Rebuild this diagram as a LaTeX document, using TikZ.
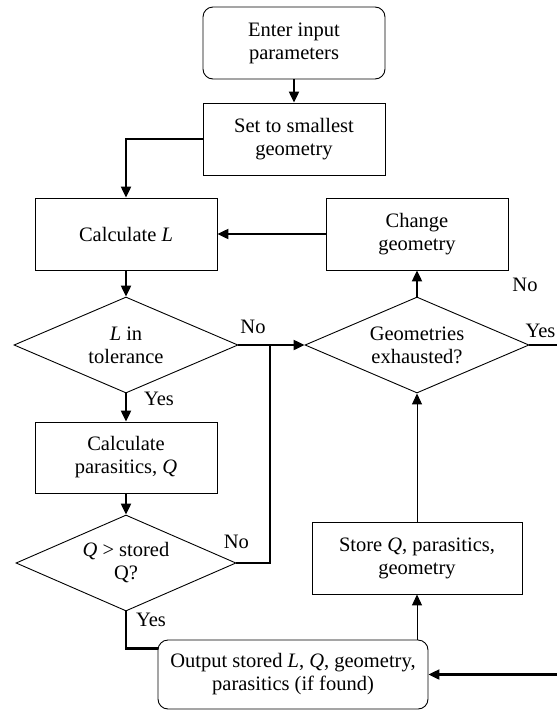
\documentclass[tikz,border=0pt]{standalone}
\usepackage{fontspec}
\setmainfont{Liberation Serif}
\usetikzlibrary{arrows.meta,shapes.geometric}

\begin{document}
\begin{tikzpicture}[x=1pt, y=-1pt,
	every node/.style={font=\fontsize{20.5}{23}\selectfont, align=center, inner sep=0pt},
	proc/.style={draw, line width=0.9pt, minimum width=182pt, minimum height=72pt},
	term/.style={proc, rounded corners=10pt},
	decision/.style={draw, diamond, aspect=2.33, line width=0.9pt, minimum width=224pt, minimum height=96pt},
	flow/.style={line width=2.2pt, -{Triangle[length=11pt,width=10pt]}},
	thinflow/.style={line width=1pt, -{Triangle[length=11pt,width=10pt]}},
	link/.style={line width=2.2pt}]
		\useasboundingbox[fill=white] (0,0) rectangle (557,710);
		\node[term] (enter) at (294,43) {Enter input\\parameters};
		\node[proc] (setgeo) at (294,139) {Set to smallest\\geometry};
		\node[proc] (calcL) at (126,234) {Calculate \textit{L}};
		\node[proc] (changegeo) at (417,234) {Change\\geometry};
		\node[decision] (ltol) at (126,345) {\textit{L} in\\tolerance};
		\node[decision] (geoex) at (417,345) {Geometries\\exhausted?};
		\node[proc, minimum height=71pt] (calcQ) at (126,457.5) {Calculate\\parasitics, \textit{Q}};
		\node[decision, minimum width=220pt] (qstore) at (126,563) {\textit{Q} > stored\\Q?};
		\node[proc, minimum width=210pt] (store) at (417,558) {Store \textit{Q}, parasitics,\\geometry};
		\node[term, minimum width=270pt, minimum height=69pt] (output) at (293,674.5) {Output stored \textit{L}, \textit{Q}, geometry,\\parasitics (if found)};
		\coordinate (merge) at (270,345);
		\node (geono) at (525,285) {No};

		\draw[flow] (enter) -- (setgeo);
		\draw[flow] (setgeo.west) -| (calcL.north);
		\draw[flow] (calcL) -- (ltol);
		\draw[flow] (ltol) -- (calcQ) node[pos=0.2, anchor=west, xshift=17pt]{Yes};
		\draw[flow] (calcQ) -- (qstore);
		\draw[flow] (ltol.east) -- (geoex.west) node[pos=0.22, above=10pt]{No};
		\draw[link] (qstore.east) node[above=13pt]{No} -| (merge);
		\draw[link] (qstore.south) node[anchor=north west, xshift=9pt, yshift=-1pt]{Yes} |- ([yshift=26pt]output.west);
		\draw[thinflow] (output.north -| store.south) -- (store.south);
		\draw[thinflow] (store) -- (geoex);
		\draw[flow] (geoex) -- (changegeo);
		\draw[flow] (changegeo) -- (calcL);
		\draw[flow] (geoex.east) node[anchor=south west, xshift=-5pt, yshift=6pt]{Yes} -- ++(40,0) |- (output.east);
	\end{tikzpicture}
\end{document}
